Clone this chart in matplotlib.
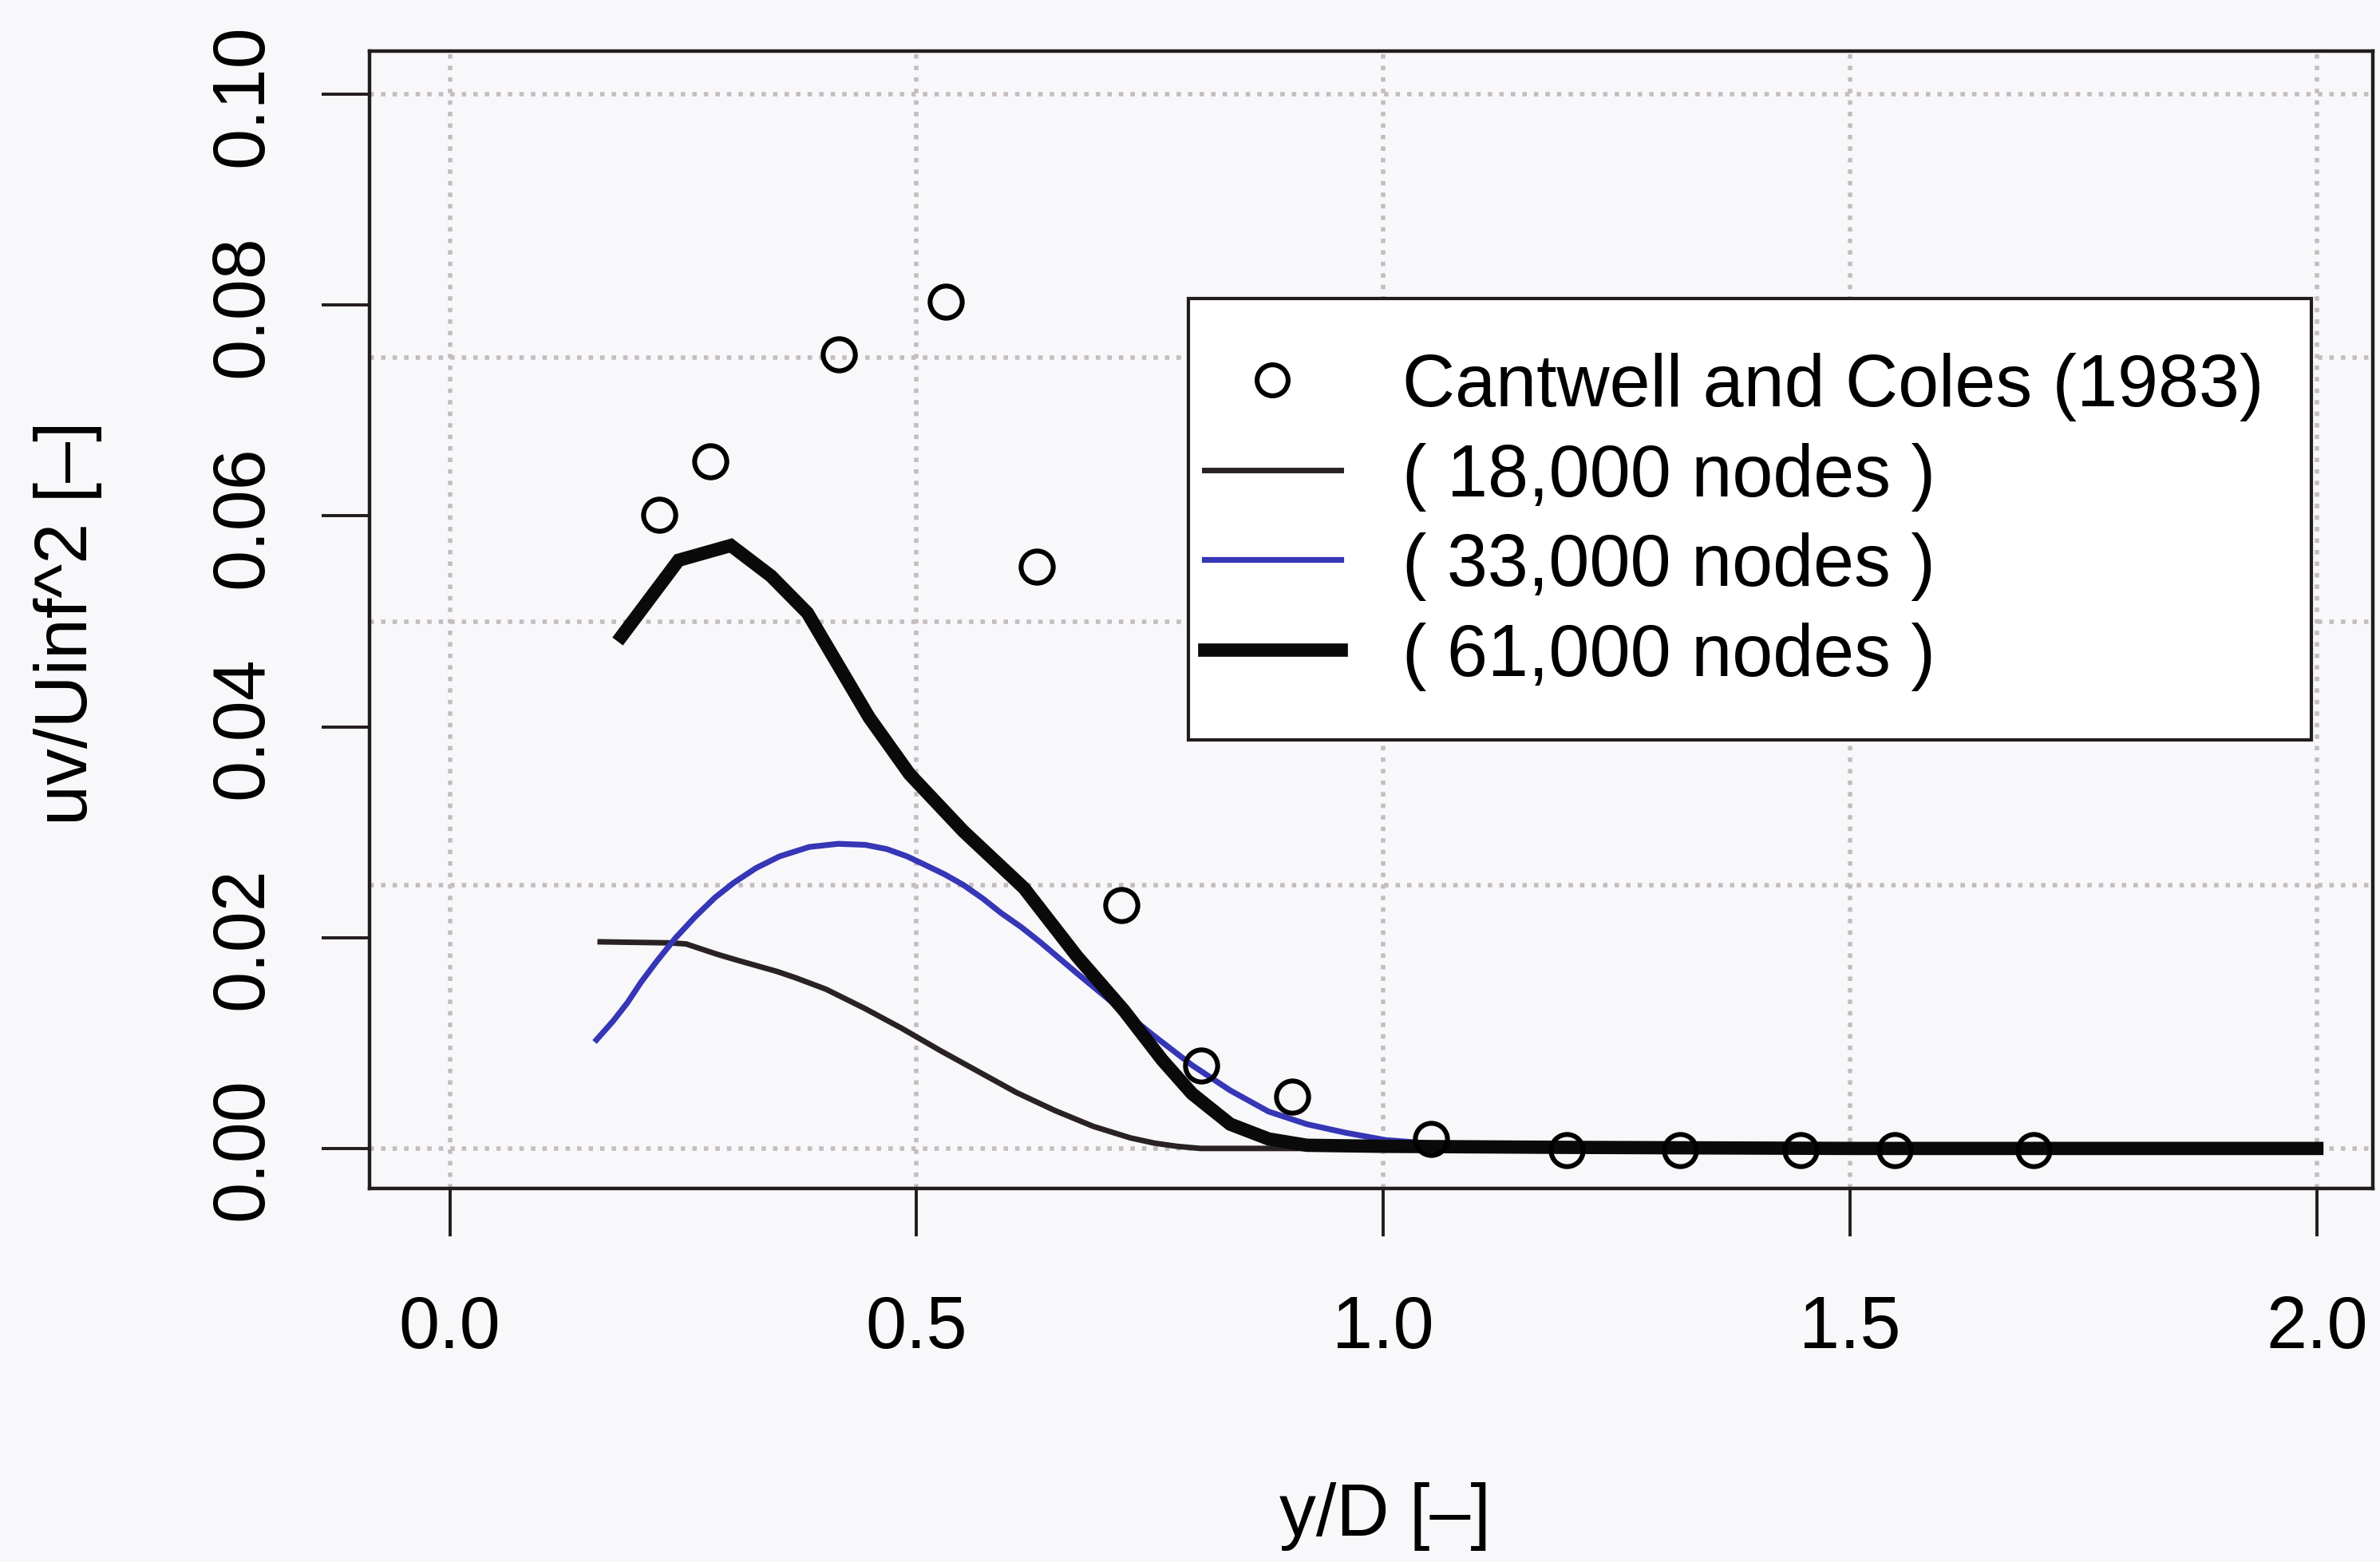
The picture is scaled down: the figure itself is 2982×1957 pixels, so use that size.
import numpy as np
import matplotlib
matplotlib.use("Agg")
import matplotlib.pyplot as plt
from matplotlib.lines import Line2D
from matplotlib.patches import Rectangle

plt.rcParams['font.family'] = ['Liberation Sans', 'DejaVu Sans']

# Cantwell and Coles (1983) measurements
yD_exp = [0.224, 0.279, 0.417, 0.531, 0.629, 0.719, 0.805, 0.902, 1.051,
          1.196, 1.318, 1.447, 1.548, 1.697]
uv_exp = [0.0601, 0.0652, 0.0753, 0.0803, 0.0552, 0.0231, 0.0079, 0.0049,
          0.0009, -0.0002, -0.0002, -0.0002, -0.0002, -0.0002]

# 18,000 nodes
yD_18k = [0.161, 0.236, 0.253, 0.270, 0.287, 0.310, 0.330, 0.350, 0.370,
          0.403, 0.444, 0.484, 0.525, 0.566, 0.607, 0.648, 0.689, 0.729,
          0.755, 0.779, 0.804, 1.0, 1.5, 2.0]
uv_18k = [0.0196, 0.0195, 0.0194, 0.0189, 0.0184, 0.0178, 0.0173, 0.0168,
          0.0162, 0.0151, 0.0133, 0.0114, 0.0093, 0.0073, 0.0053, 0.0036,
          0.0021, 0.0010, 0.0005, 0.0002, 0.0, 0.0, 0.0, 0.0]

# 33,000 nodes
yD_33k = [0.157, 0.175, 0.190, 0.205, 0.222, 0.242, 0.263, 0.284, 0.304,
          0.328, 0.353, 0.385, 0.416, 0.445, 0.468, 0.490, 0.509, 0.530,
          0.550, 0.571, 0.591, 0.612, 0.632, 0.652, 0.672, 0.713, 0.754,
          0.795, 0.836, 0.877, 0.918, 0.959, 1.002, 1.060, 1.124, 1.3, 2.0]
uv_33k = [0.0103, 0.0121, 0.0138, 0.0158, 0.0178, 0.0200, 0.0220, 0.0238,
          0.0252, 0.0266, 0.0277, 0.0286, 0.0289, 0.0288, 0.0284, 0.0277,
          0.0269, 0.0260, 0.0250, 0.0237, 0.0223, 0.0210, 0.0196, 0.0181,
          0.0166, 0.0136, 0.0107, 0.0079, 0.0055, 0.0035, 0.0023, 0.0015,
          0.0008, 0.0004, 0.0001, 0.0, 0.0]

# 61,000 nodes
yD_61k = [0.184, 0.245, 0.301, 0.344, 0.383, 0.449, 0.4925, 0.550, 0.615,
          0.672, 0.722, 0.763, 0.795, 0.836, 0.877, 0.918, 1.0, 1.2, 1.5, 2.0]
uv_61k = [0.0486, 0.0558, 0.0572, 0.0543, 0.0508, 0.0409, 0.0355, 0.0301,
          0.0247, 0.0182, 0.0131, 0.0084, 0.0052, 0.0023, 0.0009, 0.0003,
          0.0002, 0.0001, 0.0, 0.0]

labels = ['Cantwell and Coles (1983)', '( 18,000 nodes )',
          '( 33,000 nodes )', '( 61,000 nodes )']

xticks = [0.0, 0.5, 1.0, 1.5, 2.0]
yticks = [0.00, 0.02, 0.04, 0.06, 0.08, 0.10]
grid_x = [0.0, 0.5, 1.0, 1.5, 2.0]
grid_y = [0.0, 0.025, 0.05, 0.075, 0.10]

blue = '#3636b6'
bg = '#f8f8fb'
fs = 33

fig = plt.figure(figsize=(14.91, 9.79), dpi=200, facecolor=bg)
ax = fig.add_axes([0.1553, 0.2390, 0.8417, 0.7278])
ax.set_facecolor(bg)

for gx in grid_x:
    ax.axvline(gx, color='#c4bcbf', lw=2.0, ls=(0, (1, 1.6)), zorder=0.5)
for gy in grid_y:
    ax.axhline(gy, color='#c4bcbf', lw=2.0, ls=(0, (1, 1.6)), zorder=0.5)

ax.plot(yD_18k, uv_18k, color='#2a2222', lw=2.5, zorder=2)
ax.plot(yD_33k, uv_33k, color=blue, lw=2.6, zorder=2)
ax.plot(yD_61k, uv_61k, color='#0a0a0a', lw=6, zorder=3,
        solid_joinstyle='miter')
ax.plot(yD_exp, uv_exp, ls='none', marker='o', ms=14.5, mew=2.2,
        mfc='none', mec='black', zorder=4)

ax.set_xlim(-0.086, 2.06)
ax.set_ylim(-0.0038, 0.1041)
ax.set_xticks(xticks)
ax.set_xticklabels(['%.1f' % v for v in xticks])
ax.set_yticks(yticks)
ax.set_yticklabels(['%.2f' % v for v in yticks])
ax.tick_params(direction='out', length=21.5, width=1.4, labelsize=fs,
               color='#221c1c')
ax.tick_params(axis='x', pad=26)
ax.tick_params(axis='y', pad=20, labelrotation=90)
for lab in ax.get_yticklabels():
    lab.set_va('center')
for sp in ax.spines.values():
    sp.set_linewidth(1.6)
    sp.set_color('#221c1c')

ax.set_xlabel('y/D [\u2013]', fontsize=fs, va='center')
ax.xaxis.set_label_coords(0.507, -0.288)
ax.set_ylabel('uv/Uinf^2 [\u2013]', fontsize=fs, va='center')
ax.yaxis.set_label_coords(-0.1506, 0.4975)

# legend box, filled so the grid stops at its edge
box = Rectangle((1489 / 2982, 1 - 928 / 1958), (2896 - 1489) / 2982,
                (928 - 375) / 1958, transform=fig.transFigure,
                facecolor='white', edgecolor='#221c1c', lw=1.5, zorder=4.5)
ax.add_patch(box)

handles = [
    Line2D([], [], ls='none', marker='o', ms=14, mew=2.2, mfc='none',
           mec='black'),
    Line2D([], [], color='#2a2222', lw=2.5),
    Line2D([], [], color=blue, lw=2.6),
    Line2D([], [], color='#0a0a0a', lw=6),
]
leg = ax.legend(handles, labels, loc='upper left',
                bbox_to_anchor=(1509 / 2982, 1 - 442 / 1958),
                bbox_transform=fig.transFigure, frameon=False, borderpad=0,
                borderaxespad=0, handlelength=1.86, handletextpad=0.85,
                labelspacing=0.29, fontsize=fs)
leg.set_zorder(6)

fig.savefig('out.png', dpi=200, facecolor=bg)
